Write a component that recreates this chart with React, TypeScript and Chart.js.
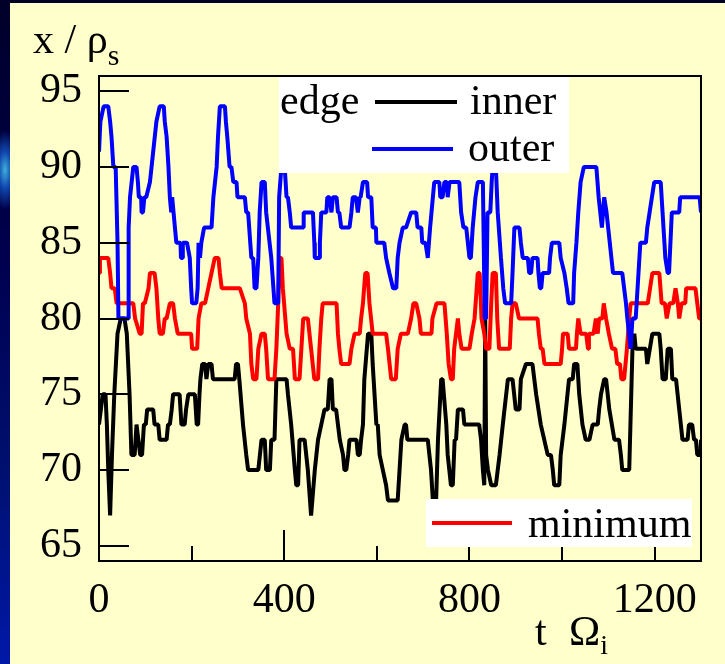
import React, { useEffect, useRef } from "react";
import { Chart, registerables } from "chart.js";

Chart.register(...registerables);

// Axis ticks
const timeTicks = [0, 400, 800, 1200];
const timeMinorTicks = [200, 600, 1000];
const posTicks = [65, 70, 75, 80, 85, 90, 95];

// outer edge position (x / rho_s) vs time (t Omega_i)
const outerT = [0, 3, 10, 20, 24, 27, 31, 36, 40, 42, 63, 64, 67, 74, 81, 84, 86, 91, 92, 95, 98, 102, 110, 117, 124, 131, 140, 142, 146, 150, 153, 156, 158, 164, 167, 176, 177, 180, 181, 190, 196, 199, 201, 210, 213, 215, 218, 221, 227, 243, 247, 254, 257, 261, 272, 274, 277, 282, 286, 290, 297, 299, 315, 318, 322, 329, 333, 336, 340, 344, 347, 351, 358, 361, 372, 379, 387, 389, 394, 401, 405, 408, 412, 415, 441, 442, 462, 465, 466, 476, 477, 480, 491, 493, 498, 502, 505, 513, 516, 519, 523, 541, 545, 548, 555, 559, 563, 565, 570, 579, 581, 588, 591, 598, 599, 616, 620, 627, 635, 642, 645, 649, 656, 663, 674, 685, 688, 696, 698, 705, 710, 715, 721, 724, 735, 737, 742, 746, 751, 753, 757, 778, 782, 787, 793, 800, 803, 807, 813, 818, 829, 833, 836, 839, 845, 848, 850, 857, 861, 868, 873, 877, 890, 893, 897, 908, 911, 915, 926, 929, 933, 936, 947, 949, 952, 955, 958, 972, 974, 978, 994, 997, 1005, 1010, 1014, 1024, 1026, 1031, 1035, 1040, 1047, 1074, 1079, 1086, 1091, 1096, 1103, 1110, 1130, 1134, 1138, 1141, 1148, 1152, 1159, 1165, 1169, 1181, 1184, 1189, 1199, 1213, 1217, 1223, 1228, 1231, 1237, 1242, 1253, 1255, 1297, 1300];
const outerX = [91, 93, 94, 94, 93, 92, 90, 90, 85, 80, 80, 86, 88, 90, 90, 89, 88, 88, 87, 87, 88, 88, 89, 91, 93, 94, 94, 93, 92, 90, 88, 87, 88, 86, 85, 85, 84, 84, 85, 85, 84, 82, 81, 81, 82, 85, 84, 85, 86, 86, 88, 90, 92, 94, 94, 93, 92, 90, 90, 89, 89, 88, 88, 87, 87, 84, 84, 82, 82, 84, 87, 89, 89, 87, 84, 81, 81, 88, 90, 90, 88, 88, 87, 86, 86, 87, 87, 85, 84, 84, 85, 87, 87, 88, 88, 87, 88, 88, 87, 87, 86, 86, 87, 88, 88, 87, 88, 88, 89, 89, 88, 88, 86, 86, 85, 85, 84, 83, 82, 82, 84, 85, 86, 86, 87, 87, 86, 86, 85, 85, 84, 86, 88, 89, 89, 88, 88, 89, 89, 88, 89, 89, 87, 86, 86, 84, 84, 86, 88, 89, 89, 80, 80, 87, 87, 89, 90, 90, 87, 84, 82, 81, 81, 83, 86, 86, 85, 84, 84, 83, 83, 84, 84, 83, 82, 82, 83, 83, 84, 85, 85, 84, 83, 82, 81, 81, 83, 85, 87, 89, 90, 90, 88, 86, 88, 87, 85, 83, 83, 82, 81, 80, 78, 80, 80, 83, 85, 85, 86, 87, 89, 89, 87, 84, 83, 83, 87, 87, 87, 88, 88, 87];

// minimum position
const minimumT = [0, 2, 20, 24, 27, 34, 38, 66, 74, 78, 88, 92, 95, 99, 107, 110, 120, 124, 128, 131, 138, 142, 146, 153, 160, 164, 170, 199, 201, 212, 215, 221, 229, 236, 243, 250, 258, 261, 265, 297, 304, 315, 318, 326, 329, 333, 340, 344, 351, 358, 361, 365, 379, 383, 387, 390, 394, 397, 405, 412, 419, 423, 433, 437, 441, 451, 458, 465, 473, 476, 480, 483, 513, 516, 519, 523, 541, 545, 552, 559, 563, 566, 570, 575, 580, 584, 591, 620, 624, 631, 641, 645, 652, 667, 674, 679, 685, 692, 695, 718, 720, 729, 746, 751, 755, 760, 764, 767, 771, 775, 778, 783, 800, 805, 811, 818, 822, 826, 832, 836, 843, 847, 850, 857, 860, 864, 887, 890, 893, 900, 907, 947, 950, 954, 958, 962, 997, 1000, 1002, 1012, 1015, 1030, 1032, 1035, 1040, 1052, 1056, 1058, 1068, 1073, 1077, 1080, 1087, 1090, 1095, 1101, 1108, 1115, 1119, 1125, 1128, 1134, 1140, 1145, 1148, 1166, 1185, 1190, 1195, 1210, 1215, 1222, 1226, 1232, 1240, 1245, 1250, 1253, 1258, 1266, 1268, 1288, 1292, 1296, 1300];
const minimumX = [83, 84, 84, 83, 82, 82, 81, 81, 81, 80, 79, 79, 81, 81, 82, 83, 83, 82, 80, 79, 79, 80, 80, 81, 81, 80, 79, 79, 78, 78, 80, 81, 81, 82, 83, 84, 84, 83, 82, 82, 82, 81, 80, 79, 77, 76, 76, 78, 79, 79, 78, 76, 76, 78, 81, 84, 84, 82, 79, 78, 78, 76, 76, 78, 80, 80, 78, 76, 76, 78, 80, 81, 81, 79, 78, 77, 77, 78, 79, 79, 79, 80, 81, 83, 83, 81, 79, 79, 78, 76, 76, 78, 79, 79, 80, 81, 81, 80, 79, 79, 80, 81, 81, 79, 77, 76, 76, 78, 79, 80, 79, 78, 78, 79, 80, 83, 83, 80, 79, 78, 78, 81, 83, 83, 80, 78, 78, 80, 81, 81, 80, 80, 79, 78, 78, 77, 77, 78, 79, 79, 78, 78, 79, 80, 79, 79, 78, 79, 79, 80, 79, 80, 80, 81, 80, 79, 78, 78, 77, 77, 76, 76, 78, 80, 81, 81, 81, 82, 83, 83, 81, 81, 80, 81, 81, 82, 81, 80, 81, 81, 82, 82, 81, 80, 80];

// inner edge position
const innerT = [0, 4, 8, 14, 17, 20, 24, 28, 33, 40, 47, 55, 60, 66, 70, 77, 81, 85, 89, 93, 97, 101, 104, 117, 120, 128, 131, 146, 149, 153, 157, 160, 174, 176, 178, 185, 188, 193, 207, 209, 211, 214, 217, 219, 223, 229, 232, 236, 243, 246, 293, 296, 300, 303, 311, 318, 322, 344, 351, 358, 361, 369, 372, 379, 383, 405, 408, 415, 423, 426, 430, 433, 444, 451, 458, 466, 473, 480, 487, 494, 498, 502, 505, 512, 520, 527, 530, 534, 538, 541, 556, 559, 563, 566, 570, 573, 581, 588, 591, 599, 602, 606, 613, 620, 624, 645, 649, 653, 660, 663, 666, 710, 717, 721, 728, 732, 739, 742, 750, 753, 760, 764, 768, 771, 775, 786, 789, 821, 825, 829, 832, 834, 836, 840, 847, 857, 865, 872, 883, 893, 900, 908, 911, 922, 936, 944, 954, 969, 976, 980, 983, 994, 997, 1005, 1015, 1023, 1026, 1033, 1037, 1044, 1051, 1059, 1066, 1077, 1080, 1084, 1091, 1095, 1102, 1113, 1123, 1127, 1130, 1145, 1152, 1156, 1159, 1181, 1184, 1195, 1210, 1213, 1217, 1224, 1228, 1235, 1238, 1246, 1253, 1260, 1271, 1274, 1281, 1285, 1289, 1292, 1299, 1300];
const innerX = [73, 74, 75, 75, 73, 70, 67, 71, 75, 79, 80, 80, 79, 75, 71, 71, 73, 72, 71, 71, 73, 73, 74, 74, 73, 73, 72, 72, 73, 73, 74, 75, 75, 74, 73, 73, 74, 75, 75, 74, 73, 73, 75, 76, 77, 77, 76, 77, 77, 76, 76, 77, 77, 76, 73, 71, 70, 70, 72, 72, 70, 70, 72, 72, 76, 76, 75, 73, 70, 69, 69, 72, 72, 70, 67, 70, 72, 73, 74, 74, 76, 76, 74, 74, 72, 71, 70, 70, 71, 72, 72, 71, 71, 72, 73, 76, 79, 79, 77, 73, 73, 71, 70, 69, 68, 68, 70, 72, 73, 73, 72, 72, 70, 68, 68, 72, 76, 76, 73, 71, 69, 69, 72, 72, 74, 74, 73, 73, 72, 70, 69, 80, 71, 70, 69, 69, 71, 73, 76, 76, 74, 74, 76, 77, 77, 75, 73, 71, 71, 70, 69, 69, 71, 73, 76, 76, 77, 77, 75, 73, 72, 72, 73, 73, 74, 75, 76, 76, 74, 72, 72, 71, 70, 70, 78, 79, 78, 78, 77, 79, 79, 78, 76, 76, 78, 78, 76, 76, 74, 72, 72, 73, 73, 72, 72, 71, 71, 72];

const SERIF = '"Liberation Serif", "Times New Roman", Times, serif';
const PANEL = "#FFFFCC";

const toPoints = (ts: number[], xs: number[]) => ts.map((t, i) => ({ x: t, y: xs[i] }));

// Frame, inward tick marks, axis titles and the two legend boxes
const decorations = {
  id: "decorations",
  afterDatasetsDraw(chart: any) {
    const { ctx, chartArea: a, scales } = chart;
    const sx = scales.x;
    const sy = scales.y;
    ctx.save();

    ctx.strokeStyle = "#000";
    ctx.lineWidth = 2;
    ctx.beginPath();
    posTicks.forEach((v) => {
      const y = Math.round(sy.getPixelForValue(v));
      ctx.moveTo(a.left, y);
      ctx.lineTo(a.left + 30, y);
    });
    timeTicks.forEach((t) => {
      const x = Math.round(sx.getPixelForValue(t));
      ctx.moveTo(x, a.bottom);
      ctx.lineTo(x, a.bottom - 31);
    });
    timeMinorTicks.forEach((t) => {
      const x = Math.round(sx.getPixelForValue(t));
      ctx.moveTo(x, a.bottom);
      ctx.lineTo(x, a.bottom - 15);
    });
    ctx.stroke();
    ctx.strokeRect(a.left, a.top, a.right - a.left, a.bottom - a.top);

    // legend boxes
    ctx.fillStyle = "#fff";
    ctx.fillRect(a.left + 180, a.top + 1, 290, 96);
    ctx.fillRect(a.left + 327, a.bottom - 62, 266, 48);

    ctx.fillStyle = "#000";
    ctx.font = `42px ${SERIF}`;
    ctx.textBaseline = "alphabetic";
    ctx.textAlign = "left";
    ctx.fillText("edge", a.left + 181, a.top + 38);
    ctx.fillText("inner", a.left + 371, a.top + 38);
    ctx.fillText("outer", a.left + 369, a.top + 85);
    ctx.fillText("minimum", a.left + 429, a.bottom - 24);

    ctx.lineWidth = 4;
    ctx.lineCap = "butt";
    const seg = (x0: number, x1: number, y: number, c: string) => {
      ctx.strokeStyle = c;
      ctx.beginPath();
      ctx.moveTo(x0, y);
      ctx.lineTo(x1, y);
      ctx.stroke();
    };
    seg(a.left + 276, a.left + 358, a.top + 26, "#000000");
    seg(a.left + 273, a.left + 354, a.top + 73, "#0000FF");
    seg(a.left + 333, a.left + 413, a.bottom - 38, "#FF0000");

    ctx.restore();
  },
  afterDraw(chart: any) {
    const { ctx } = chart;
    ctx.save();
    ctx.fillStyle = "#000";
    ctx.textBaseline = "alphabetic";
    ctx.textAlign = "left";
    // y title: x / rho_s
    ctx.font = `42px ${SERIF}`;
    ctx.fillText("x / ρ", 33, 53);
    const w = ctx.measureText("x / ρ").width;
    ctx.font = `30px ${SERIF}`;
    ctx.fillText("s", 33 + w, 65);
    // x title: t Omega_i
    ctx.font = `42px ${SERIF}`;
    ctx.fillText("t", 535, 645);
    ctx.fillText("Ω", 569, 645);
    const wo = ctx.measureText("Ω").width;
    ctx.font = `28px ${SERIF}`;
    ctx.fillText("i", 569 + wo, 654);
    ctx.restore();
  },
};

export default function App() {
  const canvasRef = useRef<HTMLCanvasElement | null>(null);

  useEffect(() => {
    document.body.style.margin = "0";
    const canvas = canvasRef.current;
    if (!canvas) return;
    const line = (label: string, color: string, ts: number[], xs: number[]) => ({
      label,
      data: toPoints(ts, xs),
      borderColor: color,
      backgroundColor: color,
      borderWidth: 4,
      pointRadius: 0,
      tension: 0,
      borderJoinStyle: "bevel" as const,
      fill: false,
    });
    const chart = new Chart(canvas, {
      type: "line",
      data: {
        datasets: [
          line("outer", "#0000FF", outerT, outerX),
          line("minimum", "#FF0000", minimumT, minimumX),
          line("inner", "#000000", innerT, innerX),
        ],
      },
      options: {
        animation: false,
        responsive: false,
        maintainAspectRatio: false,
        layout: { padding: { left: 0, top: 76, right: 24, bottom: 0 } },
        plugins: { legend: { display: false }, tooltip: { enabled: false } },
        scales: {
          x: {
            type: "linear",
            min: 0,
            max: 1300,
            grid: { display: false, drawTicks: false },
            border: { display: false },
            afterBuildTicks: (s: any) => {
              s.ticks = timeTicks.map((v) => ({ value: v }));
            },
            afterFit: (s: any) => {
              s.height = 103;
            },
            ticks: {
              padding: 15,
              maxRotation: 0,
              autoSkip: false,
              color: "#000",
              font: { family: SERIF, size: 42 },
              callback: (v: any) => String(v),
            },
          },
          y: {
            type: "linear",
            min: 64,
            max: 96,
            grid: { display: false, drawTicks: false },
            border: { display: false },
            afterBuildTicks: (s: any) => {
              s.ticks = posTicks.map((v) => ({ value: v }));
            },
            afterFit: (s: any) => {
              s.width = 99;
            },
            ticks: {
              padding: 17,
              autoSkip: false,
              color: "#000",
              font: { family: SERIF, size: 42 },
              callback: (v: any) => String(v),
            },
          },
        },
      },
      plugins: [decorations],
    });
    return () => chart.destroy();
  }, []);

  return (
    <div
      style={{
        position: "fixed",
        left: 0,
        top: 0,
        width: 725,
        height: 664,
        overflow: "hidden",
        background:
          "radial-gradient(ellipse 14px 40px at 5px 170px, #3fb0d8 0%, #1048b0 45%, rgba(0,20,120,0) 100%), linear-gradient(180deg, #000028 0%, #000050 40%, #00106e 70%, #0018a8 100%)",
      }}
    >
      <div
        style={{
          position: "absolute",
          left: 10,
          top: 3,
          right: 0,
          bottom: 0,
          background: PANEL,
        }}
      />
      <canvas
        ref={canvasRef}
        width={725}
        height={664}
        style={{ position: "absolute", left: 0, top: 0, width: 725, height: 664 }}
      />
    </div>
  );
}
